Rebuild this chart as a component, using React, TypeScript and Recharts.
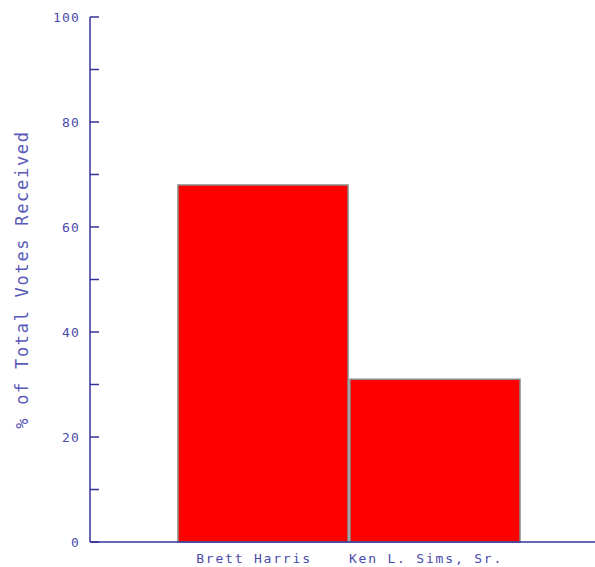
import React from "react";
import { BarChart, Bar, XAxis, YAxis } from "recharts";

const candidates = ["Brett Harris", "Ken L. Sims, Sr."];
const votePct = [68, 31];
const yTicks = [0, 10, 20, 30, 40, 50, 60, 70, 80, 90, 100];
const yLabel = "% of Total Votes Received";

const AXIS = "#333399";
const TEXT = "#4a4aac";
const FONT = "'DejaVu Sans Mono', monospace";

const data = candidates.map((name, i) => ({ name, pct: votePct[i] }));

function YTick(props: any) {
  const { x, y, payload } = props;
  const major = payload.value % 20 === 0;
  return (
    <g>
      <line x1={x} y1={y} x2={x + 9} y2={y} stroke={AXIS} strokeWidth={1.5} />
      {major && (
        <text
          x={x - 10}
          y={y}
          textAnchor="end"
          dominantBaseline="central"
          fill={TEXT}
          fontFamily={FONT}
          fontSize={13}
          letterSpacing={1.2}
        >
          {payload.value}
        </text>
      )}
    </g>
  );
}

function YLabel(props: any) {
  const { viewBox } = props;
  const cx = viewBox.x + 22;
  const cy = viewBox.y + viewBox.height / 2;
  return (
    <text
      x={cx}
      y={cy}
      transform={`rotate(-90, ${cx}, ${cy})`}
      textAnchor="middle"
      dominantBaseline="central"
      fill="#5a5ab8"
      fontFamily={FONT}
      fontSize={17}
      letterSpacing={1.7}
    >
      {yLabel}
    </text>
  );
}

export default function App() {
  return (
    <div style={{ position: "absolute", left: 0, top: 0, background: "#fff" }}>
      <BarChart
        width={595}
        height={567}
        data={data}
        margin={{ top: 17, right: 0, left: 0, bottom: 0 }}
        barCategoryGap={1}
      >
        <XAxis
          dataKey="name"
          padding={{ left: 87, right: 74 }}
          axisLine={{ stroke: AXIS, strokeWidth: 1.5 }}
          tickLine={false}
          tick={{ fill: TEXT, fontFamily: FONT, fontSize: 13, letterSpacing: 1.8, dx: -9 }}
          tickMargin={6}
          height={25}
        />
        <YAxis
          width={90}
          domain={[0, 100]}
          ticks={yTicks}
          interval={0}
          tickSize={0}
          tickMargin={0}
          tickLine={false}
          axisLine={{ stroke: AXIS, strokeWidth: 1.5 }}
          tick={<YTick />}
          label={<YLabel />}
        />
        <Bar
          dataKey="pct"
          fill="#ff0000"
          stroke="#888888"
          strokeWidth={1.5}
          isAnimationActive={false}
        />
      </BarChart>
    </div>
  );
}
